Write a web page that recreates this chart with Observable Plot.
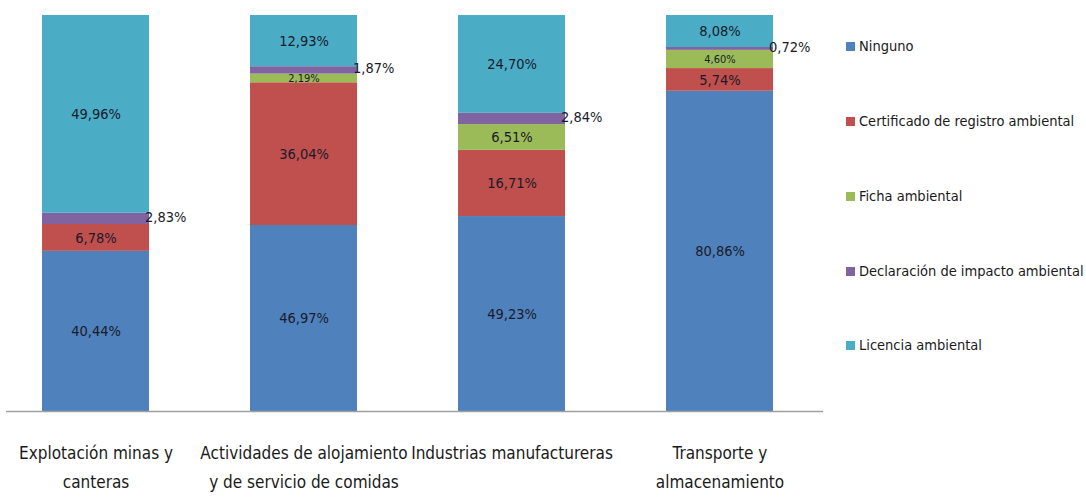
<!DOCTYPE html>
<html><head><meta charset="utf-8">
<script src="https://cdn.jsdelivr.net/npm/d3@7"></script>
<script src="https://cdn.jsdelivr.net/npm/@observablehq/plot@0.6"></script>
<style>
body{margin:0;background:#fff;}
#wrap{position:relative;width:1086px;height:497px;overflow:hidden;font-family:"DejaVu Sans Condensed","Liberation Sans Narrow",sans-serif;}
#legend{position:absolute;left:846px;top:0;width:240px;height:497px;}
.item{position:absolute;left:0;display:flex;align-items:center;white-space:nowrap;font-size:14.5px;line-height:20px;color:#1a1a1a;}
.sw{width:9px;height:9px;margin-right:4px;flex:none;}
</style></head>
<body><div id="wrap"></div>
<script>
const categories = ["Explotación minas y canteras","Actividades de alojamiento y de servicio de comidas","Industrias manufactureras","Transporte y almacenamiento"];
const tickLabels = ["Explotación minas y\ncanteras","Actividades de alojamiento\ny de servicio de comidas","Industrias manufactureras","Transporte y\nalmacenamiento"];
const types = ["Ninguno","Certificado de registro ambiental","Ficha ambiental","Declaración de impacto ambiental","Licencia ambiental"];
const colors = ["#4F81BD","#C0504D","#9BBB59","#8064A2","#4BACC6"];
const ninguno = [40.44,46.97,49.23,80.86];
const certificado = [6.78,36.04,16.71,5.74];
const ficha = [0,2.19,6.51,4.60];
const declaracion = [2.83,1.87,2.84,0.72];
const licencia = [49.96,12.93,24.70,8.08];
const outsideType = "Declaración de impacto ambiental";

const series = [ninguno, certificado, ficha, declaracion, licencia];
const rows = [];
categories.forEach((c, i) => types.forEach((t, j) => rows.push({category: c, type: t, value: series[j][i]})));
const fmt = v => v.toFixed(2).replace(".", ",") + "%";
const FONT = '"DejaVu Sans Condensed","Liberation Sans Narrow",sans-serif';

const plot = Plot.plot({
  width: 1086, height: 497,
  marginLeft: 6, marginRight: 263, marginTop: 15, marginBottom: 86,
  x: {domain: categories, range: [-8.5, 823.5], paddingInner: 0.486, paddingOuter: 0.243, axis: null},
  y: {domain: [0, 100], axis: null},
  color: {domain: types, range: colors},
  style: {fontFamily: FONT, background: "white", color: "#1a1a1a"},
  marks: [
    Plot.barY(rows, Plot.stackY({x: "category", y: "value", fill: "type", order: types})),
    Plot.ruleY([0], {stroke: "#a0a0a0", strokeWidth: 1.5}),
    Plot.text(rows, Plot.stackY({
      x: "category", y: "value", z: "type", order: types,
      text: d => (d.value > 0 && d.type !== outsideType) ? fmt(d.value) : null,
      fontSize: d => d.value < 5 ? 11 : 14.5,
      fill: "#1a1a2a"
    })),
    Plot.text(rows, Plot.stackY({
      x: "category", y: "value", z: "type", order: types,
      text: d => d.type === outsideType ? fmt(d.value) : null,
      fontSize: 14.5, textAnchor: "start", dx: 49, dy: -2,
      fill: "#1a1a2a"
    })),
    Plot.axisX({
      tickSize: 0, tickPadding: 27, fontSize: 17, lineHeight: 1.7,
      tickFormat: c => tickLabels[categories.indexOf(c)], label: null
    })
  ]
});

const wrap = document.getElementById("wrap");
wrap.appendChild(plot);
const legend = document.createElement("div");
legend.id = "legend";
const centers = [46, 121, 196, 271, 345];
types.forEach((t, j) => {
  const it = document.createElement("div");
  it.className = "item";
  it.style.top = (centers[j] - 10) + "px";
  const sw = document.createElement("span");
  sw.className = "sw"; sw.style.background = colors[j];
  const tx = document.createElement("span");
  tx.textContent = t;
  it.appendChild(sw); it.appendChild(tx);
  legend.appendChild(it);
});
wrap.appendChild(legend);
</script>
</body></html>
